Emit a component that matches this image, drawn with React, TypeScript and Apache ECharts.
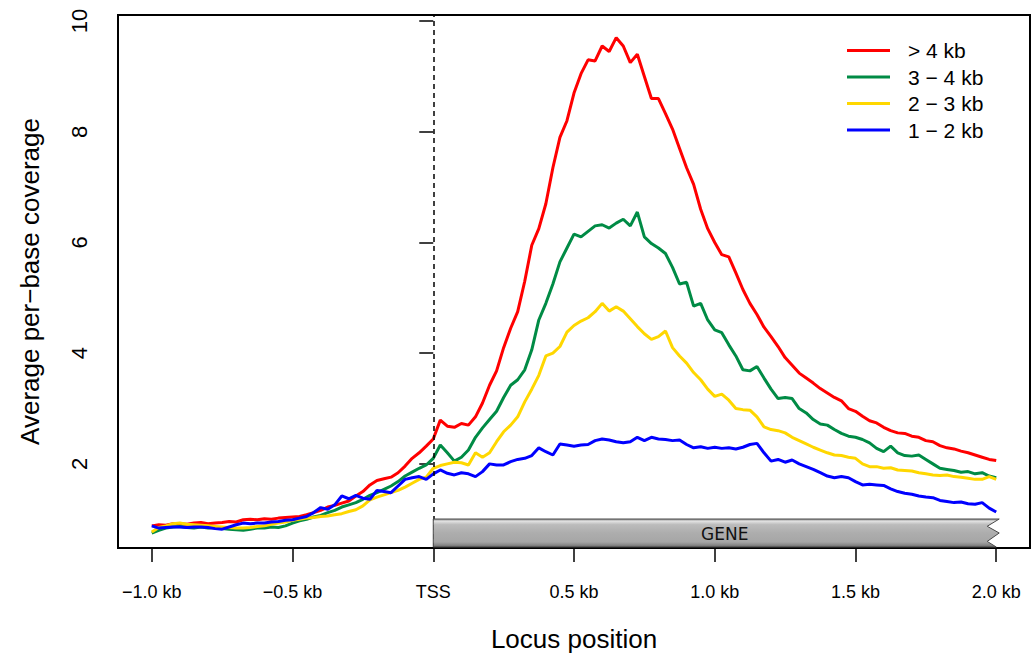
import React, { useEffect, useRef } from "react";
import * as echarts from "echarts";

// Locus positions (kb relative to TSS)
const positions = [
  -1, -0.975, -0.95, -0.925, -0.9, -0.875, -0.85, -0.825, -0.8, -0.775,
  -0.75, -0.725, -0.7, -0.675, -0.65, -0.625, -0.6, -0.575, -0.55, -0.525,
  -0.5, -0.475, -0.45, -0.425, -0.4, -0.375, -0.35, -0.325, -0.3, -0.275,
  -0.25, -0.225, -0.2, -0.175, -0.15, -0.125, -0.1, -0.075, -0.05, -0.025,
  0, 0.025, 0.05, 0.075, 0.1, 0.125, 0.15, 0.175, 0.2, 0.225,
  0.25, 0.275, 0.3, 0.325, 0.35, 0.375, 0.4, 0.425, 0.45, 0.475,
  0.5, 0.525, 0.55, 0.575, 0.6, 0.625, 0.65, 0.675, 0.7, 0.725,
  0.75, 0.775, 0.8, 0.825, 0.85, 0.875, 0.9, 0.925, 0.95, 0.975,
  1, 1.025, 1.05, 1.075, 1.1, 1.125, 1.15, 1.175, 1.2, 1.225,
  1.25, 1.275, 1.3, 1.325, 1.35, 1.375, 1.4, 1.425, 1.45, 1.475,
  1.5, 1.525, 1.55, 1.575, 1.6, 1.625, 1.65, 1.675, 1.7, 1.725,
  1.75, 1.775, 1.8, 1.825, 1.85, 1.875, 1.9, 1.925, 1.95, 1.975,
  2,
];

const over4kb = [
  0.88, 0.90, 0.89, 0.92, 0.92, 0.91, 0.93, 0.94, 0.92, 0.93,
  0.94, 0.96, 0.95, 0.99, 1.00, 0.99, 1.01, 1.00, 1.02, 1.03,
  1.04, 1.05, 1.08, 1.12, 1.16, 1.22, 1.25, 1.29, 1.33, 1.42,
  1.50, 1.62, 1.70, 1.73, 1.76, 1.84, 1.96, 2.10, 2.20, 2.32,
  2.45, 2.79, 2.68, 2.66, 2.73, 2.70, 2.85, 3.10, 3.42, 3.68,
  4.10, 4.45, 4.75, 5.30, 5.95, 6.25, 6.70, 7.35, 7.90, 8.20,
  8.70, 9.05, 9.30, 9.28, 9.55, 9.45, 9.70, 9.55, 9.25, 9.40,
  9.00, 8.60, 8.60, 8.33, 8.05, 7.70, 7.35, 7.05, 6.60, 6.25,
  6.00, 5.78, 5.74, 5.45, 5.15, 4.90, 4.70, 4.47, 4.30, 4.12,
  3.92, 3.78, 3.64, 3.55, 3.46, 3.36, 3.28, 3.20, 3.14, 3.00,
  2.95, 2.86, 2.78, 2.74, 2.66, 2.60, 2.56, 2.55, 2.50, 2.48,
  2.42, 2.40, 2.33, 2.29, 2.27, 2.23, 2.20, 2.16, 2.12, 2.08,
  2.06,
];

const kb3to4 = [
  0.75, 0.80, 0.84, 0.86, 0.87, 0.85, 0.84, 0.86, 0.84, 0.85,
  0.83, 0.82, 0.81, 0.80, 0.82, 0.84, 0.84, 0.86, 0.85, 0.88,
  0.93, 0.97, 1.00, 1.04, 1.07, 1.12, 1.16, 1.22, 1.26, 1.30,
  1.36, 1.43, 1.48, 1.54, 1.60, 1.68, 1.78, 1.85, 1.92, 1.98,
  2.10, 2.34, 2.20, 2.05, 2.12, 2.25, 2.48, 2.65, 2.80, 2.95,
  3.20, 3.42, 3.52, 3.70, 4.06, 4.60, 4.90, 5.25, 5.65, 5.90,
  6.15, 6.10, 6.20, 6.30, 6.32, 6.26, 6.35, 6.42, 6.30, 6.55,
  6.10, 5.98, 5.90, 5.80, 5.55, 5.25, 5.28, 4.85, 4.90, 4.60,
  4.42, 4.37, 4.15, 3.95, 3.70, 3.68, 3.76, 3.55, 3.35, 3.18,
  3.20, 3.18, 3.00, 2.92, 2.80, 2.72, 2.70, 2.62, 2.55, 2.50,
  2.48, 2.44, 2.38, 2.28, 2.22, 2.32, 2.20, 2.15, 2.14, 2.16,
  2.08, 2.00, 1.92, 1.90, 1.88, 1.85, 1.86, 1.82, 1.84, 1.78,
  1.75,
];

const kb2to3 = [
  0.77, 0.85, 0.88, 0.92, 0.93, 0.91, 0.90, 0.89, 0.88, 0.87,
  0.86, 0.85, 0.84, 0.84, 0.85, 0.87, 0.88, 0.91, 0.93, 0.95,
  0.98, 1.00, 1.02, 1.03, 1.05, 1.06, 1.08, 1.10, 1.14, 1.17,
  1.24, 1.35, 1.40, 1.44, 1.48, 1.52, 1.58, 1.65, 1.72, 1.76,
  1.92, 1.97, 2.00, 2.03, 2.02, 1.98, 2.20, 2.12, 2.20, 2.40,
  2.58, 2.70, 2.85, 3.12, 3.35, 3.60, 3.95, 4.00, 4.12, 4.38,
  4.50, 4.58, 4.64, 4.75, 4.90, 4.76, 4.84, 4.76, 4.62, 4.48,
  4.35, 4.25, 4.30, 4.40, 4.10, 3.95, 3.82, 3.65, 3.52, 3.35,
  3.22, 3.26, 3.15, 3.00, 2.98, 2.97, 2.85, 2.67, 2.62, 2.60,
  2.56, 2.48, 2.42, 2.36, 2.30, 2.25, 2.20, 2.16, 2.15, 2.12,
  2.10, 2.00, 1.95, 1.95, 1.92, 1.93, 1.89, 1.88, 1.87, 1.84,
  1.82, 1.80, 1.79, 1.80, 1.77, 1.76, 1.74, 1.72, 1.72, 1.77,
  1.72,
];

const kb1to2 = [
  0.88, 0.84, 0.85, 0.86, 0.86, 0.85, 0.86, 0.86, 0.85, 0.83,
  0.82, 0.86, 0.90, 0.93, 0.92, 0.93, 0.93, 0.95, 0.96, 0.98,
  0.99, 1.02, 1.05, 1.12, 1.21, 1.18, 1.26, 1.42, 1.37, 1.43,
  1.38, 1.36, 1.52, 1.50, 1.48, 1.60, 1.72, 1.75, 1.77, 1.72,
  1.82, 1.89, 1.83, 1.80, 1.84, 1.82, 1.77, 1.86, 2.00, 1.98,
  1.98, 2.04, 2.08, 2.10, 2.15, 2.29, 2.22, 2.16, 2.36, 2.34,
  2.32, 2.34, 2.35, 2.42, 2.45, 2.43, 2.40, 2.38, 2.40, 2.48,
  2.42, 2.48, 2.45, 2.44, 2.42, 2.43, 2.35, 2.29, 2.31, 2.28,
  2.30, 2.28, 2.29, 2.27, 2.30, 2.35, 2.37, 2.20, 2.05, 2.08,
  2.03, 2.07, 2.00, 1.95, 1.90, 1.84, 1.78, 1.75, 1.77, 1.75,
  1.68, 1.62, 1.63, 1.62, 1.61, 1.55, 1.50, 1.47, 1.45, 1.42,
  1.40, 1.39, 1.34, 1.32, 1.30, 1.31, 1.28, 1.27, 1.30, 1.20,
  1.13,
];

const seriesNames = ["> 4 kb", "3 − 4 kb", "2 − 3 kb", "1 − 2 kb"];
const seriesValues = [over4kb, kb3to4, kb2to3, kb1to2];
const seriesColors = ["#FF0000", "#008B45", "#FFD700", "#0000FF"];

const xTicks = [-1, -0.5, 0, 0.5, 1, 1.5, 2];
const xTickLabels = ["−1.0 kb", "−0.5 kb", "TSS", "0.5 kb", "1.0 kb", "1.5 kb", "2.0 kb"];
const yTicks = [2, 4, 6, 8, 10];

const geneLabel = "GENE";
const geneSpan = [0, 2];
const tssPosition = 0;

const FONT = "'Liberation Sans', Arial, Helvetica, sans-serif";

export default function App() {
  const ref = useRef<HTMLDivElement>(null);

  useEffect(() => {
    document.body.style.margin = "0";
    if (!ref.current) return;
    const chart = echarts.init(ref.current, null, { renderer: "svg" });

    const lineSeries = seriesNames.map((name, i) => ({
      name,
      type: "line",
      data: positions.map((p, j) => [p, seriesValues[i][j]]),
      symbol: "none",
      showSymbol: false,
      lineStyle: { color: seriesColors[i], width: 3 },
      itemStyle: { color: seriesColors[i] },
      z: 2,
      markLine:
        i === 0
          ? {
              silent: true,
              symbol: ["none", "none"],
              label: { show: false },
              lineStyle: { color: "#000", type: [5, 4], width: 1.5 },
              data: [{ xAxis: tssPosition }],
            }
          : undefined,
    }));

    const geneSeries = {
      type: "custom",
      name: "gene",
      coordinateSystem: "cartesian2d",
      silent: true,
      z: 10,
      data: [[geneSpan[0], geneSpan[1]]],
      renderItem: (params: any, api: any) => {
        const x0 = api.coord([api.value(0), 1])[0];
        const x1 = api.coord([api.value(1), 1])[0];
        const cs = params.coordSys;
        const bottom = cs.y + cs.height - 1;
        const top = bottom - 28;
        const h = bottom - top;
        const pts = [
          [x0, top],
          [x1 + 3, top],
          [x1 - 9, top + h * 0.26],
          [x1 + 3, top + h * 0.5],
          [x1 - 9, top + h * 0.8],
          [x1, bottom],
          [x0, bottom],
        ];
        return {
          type: "group",
          children: [
            {
              type: "polygon",
              shape: { points: pts },
              style: {
                fill: new echarts.graphic.LinearGradient(0, 0, 0, 1, [
                  { offset: 0, color: "#8c8c8c" },
                  { offset: 0.08, color: "#e2e2e2" },
                  { offset: 0.2, color: "#bcbcbc" },
                  { offset: 0.5, color: "#adadad" },
                  { offset: 0.82, color: "#a6a6a6" },
                  { offset: 0.92, color: "#8a8a8a" },
                  { offset: 1, color: "#6a6a6a" },
                ]),
                stroke: "#4a4a4a",
                lineWidth: 1,
              },
            },
            {
              type: "text",
              style: {
                text: geneLabel,
                x: (x0 + x1) / 2 + 10,
                y: (top + bottom) / 2 + 1,
                align: "center",
                verticalAlign: "middle",
                fontSize: 17,
                fontFamily: "'DejaVu Sans', sans-serif",
                fill: "#111",
              },
            },
          ],
        };
      },
    };

    chart.setOption({
      animation: false,
      grid: {
        left: 118,
        right: 2,
        top: 15,
        bottom: 111,
        show: true,
        borderColor: "#000",
        borderWidth: 2,
        backgroundColor: "transparent",
      },
      legend: {
        data: seriesNames.map((n) => ({ name: n, icon: "rect" })),
        orient: "vertical",
        left: 842,
        top: 35,
        itemWidth: 43,
        itemHeight: 3,
        itemGap: 5.5,
        selectedMode: false,
        textStyle: {
          fontSize: 21,
          lineHeight: 21,
          color: "#000",
          fontFamily: FONT,
          padding: [0, 0, 0, 13],
        },
      },
      xAxis: {
        type: "value",
        min: -1.12,
        max: 2.12,
        name: "Locus position",
        nameLocation: "middle",
        nameGap: 78,
        nameTextStyle: { fontSize: 26, color: "#000", fontFamily: FONT },
        axisLine: { show: false },
        splitLine: { show: false },
        axisTick: {
          show: true,
          customValues: xTicks,
          length: 14,
          lineStyle: { color: "#000", width: 1.5 },
        },
        axisLabel: {
          customValues: xTicks,
          margin: 35,
          fontSize: 18,
          color: "#000",
          fontFamily: FONT,
          formatter: (v: number) => {
            const idx = xTicks.findIndex((t) => Math.abs(t - v) < 1e-9);
            return idx >= 0 ? xTickLabels[idx] : "";
          },
        },
      },
      yAxis: {
        type: "value",
        min: 0.48,
        max: 10.11,
        name: "Average per−base coverage",
        nameLocation: "middle",
        nameRotate: 90,
        nameGap: 75,
        nameTextStyle: { fontSize: 26, color: "#000", fontFamily: FONT },
        axisLine: { show: false },
        splitLine: { show: false },
        axisTick: {
          show: true,
          customValues: yTicks,
          length: 14,
          lineStyle: { color: "#000", width: 1.5 },
        },
        axisLabel: {
          customValues: yTicks,
          rotate: 90,
          margin: 28,
          fontSize: 22,
          color: "#000",
          fontFamily: FONT,
          formatter: (v: number) => String(v),
        },
      },
      series: [...lineSeries, geneSeries],
    });

    return () => chart.dispose();
  }, []);

  return <div ref={ref} style={{ width: 1032, height: 659 }} />;
}
